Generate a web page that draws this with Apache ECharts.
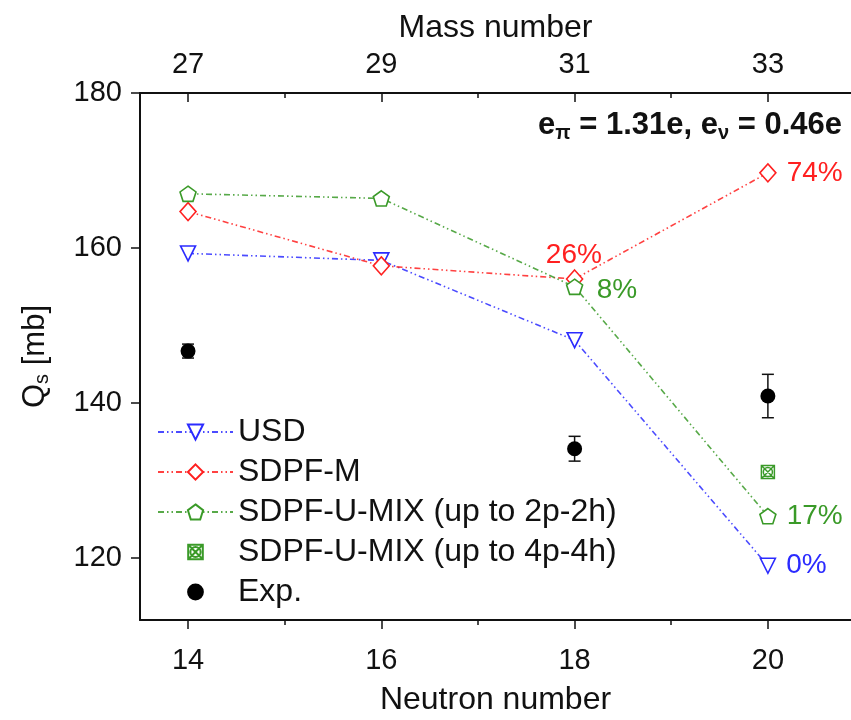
<!DOCTYPE html>
<html>
<head>
<meta charset="utf-8">
<script src="https://cdn.jsdelivr.net/npm/echarts@6/dist/echarts.min.js"></script>
<style>
html,body{margin:0;padding:0;background:#fff;}
#chart{width:851px;height:720px;}
</style>
</head>
<body>
<div id="chart"></div>
<script>
var neutronTicks=[14,16,18,20];
var neutronMinor=[15,17,19];
var massTicks=[27,29,31,33];
var massMinor=[28,30,32];
var qTicks=[120,140,160,180];
var qMinor=[130,150,170];

var neutron=[14,16,18,20];
var usd=[159.3,158.4,148.1,119.0];
var sdpfm=[164.7,157.7,156.0,169.7];
var mix2p=[167.0,166.4,155.0,125.4];
var mix4pN=[20];
var mix4p=[131.1];
var expN=[14,18,20];
var expQ=[146.7,134.1,140.9];
var expErr=[0.9,1.6,2.8];

var usdPct=[null,null,null,'0%'];
var sdpfmPct=[null,null,'26%','74%'];
var mix2pPct=[null,null,'8%','17%'];

var FONT="'Liberation Sans', Arial, sans-serif";
var BLUE='#2b2bff', RED='#ff2020', GREEN='#3a9a28';
var dash=[6,3,1.5,3,1.5,3];

var pentagon='path://M50,0 L97.6,34.5 L79.4,90.5 L20.6,90.5 L2.4,34.5 Z';
var crossBox='path://M0,0 L20,0 L20,20 L0,20 Z M0,0 L20,20 M20,0 L0,20 M10,3 A7,7 0 1,1 9.99,3 Z';
// same shapes with empty margin so the legend draws them smaller
var crossBoxIcon='path://M-3,-3 M23,23 M0,0 L20,0 L20,20 L0,20 Z M0,0 L20,20 M20,0 L0,20 M10,3 A7,7 0 1,1 9.99,3 Z';
var dotIcon='path://M0,0 M17,17 M8.5,1 A7.5,7.5 0 1,1 8.49,1 Z';

// points with optional % label
function pts(ys,labels,pos,color){
  return neutron.map(function(x,i){
    var d={value:[x,ys[i]]};
    if(labels[i]){
      d.label={show:true,formatter:labels[i],color:color,fontSize:28,fontFamily:FONT,
        position:pos[i]||'right',distance:10};
    }
    return d;
  });
}

var chart=echarts.init(document.getElementById('chart'));

var xMin=13.503, xMax=20.86;
var baseX={type:'value',min:xMin,max:xMax,splitLine:{show:false}};

var option={
  animation:false,
  backgroundColor:'#fff',
  grid:{left:140,top:93,right:0,bottom:100,outerBoundsMode:'none',containLabel:false},
  xAxis:[
    Object.assign({},baseX,{position:'bottom',
      name:'Neutron number',nameLocation:'middle',nameGap:64,
      nameTextStyle:{fontSize:32,fontFamily:FONT,color:'#111'},
      axisLine:{lineStyle:{color:'#111',width:2}},
      axisTick:{customValues:neutronTicks,length:9,lineStyle:{color:'#111',width:1.5}},
      axisLabel:{customValues:neutronTicks,fontSize:29,fontFamily:FONT,color:'#111',margin:26}}),
    Object.assign({},baseX,{position:'bottom',
      axisLine:{show:false},
      axisTick:{customValues:neutronMinor,length:5,lineStyle:{color:'#111',width:1.5}},
      axisLabel:{show:false}}),
    {type:'value',position:'top',min:xMin+13,max:xMax+13,splitLine:{show:false},
      name:'Mass number',nameLocation:'middle',nameGap:49,
      nameTextStyle:{fontSize:32,fontFamily:FONT,color:'#111'},
      axisLine:{lineStyle:{color:'#111',width:2}},
      axisTick:{customValues:massTicks,inside:true,length:9,lineStyle:{color:'#111',width:1.5}},
      axisLabel:{customValues:massTicks,fontSize:29,fontFamily:FONT,color:'#111',margin:14}},
    {type:'value',position:'top',min:xMin+13,max:xMax+13,splitLine:{show:false},
      axisLine:{show:false},
      axisTick:{customValues:massMinor,inside:true,length:5,lineStyle:{color:'#111',width:1.5}},
      axisLabel:{show:false}}
  ],
  yAxis:[
    {type:'value',min:112,max:180,splitLine:{show:false},
      name:'Q{s|s} [mb]',nameLocation:'middle',nameGap:88,nameRotate:90,
      nameTextStyle:{fontSize:31,fontFamily:FONT,color:'#111',
        rich:{s:{fontSize:20,fontFamily:FONT,color:'#111',padding:[14,0,0,0]}}},
      axisLine:{lineStyle:{color:'#111',width:2}},
      axisTick:{customValues:qTicks,length:9,lineStyle:{color:'#111',width:1.5}},
      axisLabel:{customValues:qTicks,fontSize:29,fontFamily:FONT,color:'#111',margin:18}},
    {type:'value',min:112,max:180,splitLine:{show:false},
      axisLine:{show:false},
      axisTick:{customValues:qMinor,length:5,lineStyle:{color:'#111',width:1.5}},
      axisLabel:{show:false}}
  ],
  legend:{
    orient:'vertical',left:152,top:411,itemWidth:75,itemHeight:19,itemGap:8,
    textStyle:{fontSize:32,fontFamily:FONT,color:'#111',padding:[0,0,0,0]},
    data:['USD','SDPF-M','SDPF-U-MIX (up to 2p-2h)',
      {name:'SDPF-U-MIX (up to 4p-4h)',icon:crossBoxIcon},
      {name:'Exp.',icon:dotIcon}]
  },
  graphic:[{
    type:'text',right:9,top:110,
    style:{
      text:'e{sub|π} = 1.31e, e{sub|ν} = 0.46e',
      font:'bold 31px '+FONT,fill:'#111',
      rich:{sub:{font:'bold 20px '+FONT,fill:'#111',padding:[16,0,0,0]}}
    }
  }],
  series:[
    {name:'USD',type:'line',data:pts(usd,usdPct,[],BLUE),
      symbol:'triangle',symbolRotate:180,symbolSize:15,
      lineStyle:{color:BLUE,width:1.6,type:dash,opacity:0.85},
      itemStyle:{color:'#fff',borderColor:BLUE,borderWidth:1.6}},
    {name:'SDPF-M',type:'line',data:pts(sdpfm,sdpfmPct,[null,null,[-20,-28],'right'],RED),
      symbol:'diamond',symbolSize:[16,18],
      lineStyle:{color:RED,width:1.6,type:dash,opacity:0.85},
      itemStyle:{color:'#fff',borderColor:RED,borderWidth:1.6}},
    {name:'SDPF-U-MIX (up to 2p-2h)',type:'line',data:pts(mix2p,mix2pPct,[null,null,[31,-2],'right'],GREEN),
      symbol:pentagon,symbolSize:16,symbolKeepAspect:true,
      lineStyle:{color:GREEN,width:1.6,type:dash,opacity:0.85},
      itemStyle:{color:'#fff',borderColor:GREEN,borderWidth:1.6}},
    {name:'SDPF-U-MIX (up to 4p-4h)',type:'scatter',
      data:mix4pN.map(function(x,i){return [x,mix4p[i]];}),
      symbol:crossBox,symbolSize:13,
      itemStyle:{color:'rgba(0,0,0,0)',borderColor:GREEN,borderWidth:1.5,opacity:1}},
    {name:'Exp. error',type:'custom',
      data:expN.map(function(x,i){return [x,expQ[i],expErr[i]];}),
      renderItem:function(params,api){
        var x=api.value(0),y=api.value(1),e=api.value(2);
        var top=api.coord([x,y+e]),bot=api.coord([x,y-e]);
        var st={stroke:'#111',lineWidth:1.5};
        return {type:'group',children:[
          {type:'line',shape:{x1:top[0],y1:top[1],x2:bot[0],y2:bot[1]},style:st},
          {type:'line',shape:{x1:top[0]-6,y1:top[1],x2:top[0]+6,y2:top[1]},style:st},
          {type:'line',shape:{x1:bot[0]-6,y1:bot[1],x2:bot[0]+6,y2:bot[1]},style:st}
        ]};
      },
      z:1,silent:true},
    {name:'Exp.',type:'scatter',
      data:expN.map(function(x,i){return [x,expQ[i]];}),
      symbol:'circle',symbolSize:15,itemStyle:{color:'#000',opacity:1},z:3}
  ]
};
chart.setOption(option);
</script>
</body>
</html>
